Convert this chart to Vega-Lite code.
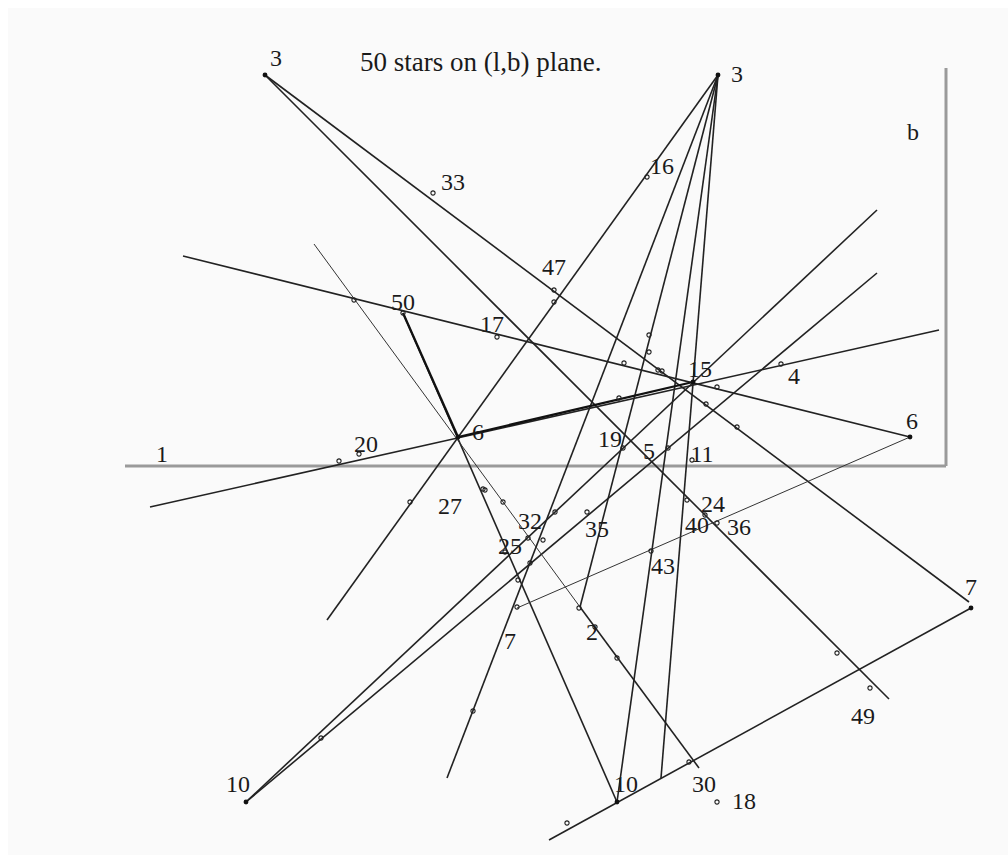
{
  "$schema": "https://vega.github.io/schema/vega-lite/v6.json",
  "width": 1000,
  "height": 847,
  "autosize": {"type": "none"},
  "padding": {"left": 8, "top": 8, "right": 0, "bottom": 0},
  "background": "white",
  "config": {"view": {"fill": "#fafafa", "stroke": null}},
  "datasets": {
    "axes": [
      {"x": 125, "y": 466, "x2": 946, "y2": 466},
      {"x": 946, "y": 68, "x2": 946, "y2": 466}
    ],
    "lines": [
      {"x": 265, "y": 75, "x2": 969, "y2": 602},
      {"x": 265, "y": 75, "x2": 889, "y2": 699},
      {"x": 718, "y": 75, "x2": 327, "y2": 620},
      {"x": 718, "y": 75, "x2": 447, "y2": 778},
      {"x": 718, "y": 75, "x2": 580, "y2": 607},
      {"x": 718, "y": 75, "x2": 617, "y2": 802},
      {"x": 718, "y": 75, "x2": 661, "y2": 778},
      {"x": 403, "y": 313, "x2": 617, "y2": 802},
      {"x": 183, "y": 256, "x2": 910, "y2": 437},
      {"x": 150, "y": 507, "x2": 939, "y2": 330},
      {"x": 246, "y": 802, "x2": 877, "y2": 210},
      {"x": 246, "y": 802, "x2": 877, "y2": 273},
      {"x": 549, "y": 840, "x2": 971, "y2": 608},
      {"x": 580, "y": 607, "x2": 699, "y2": 768}
    ],
    "thin": [
      {"x": 314, "y": 244, "x2": 580, "y2": 607},
      {"x": 910, "y": 437, "x2": 517, "y2": 608}
    ],
    "thick": [
      {"x": 458, "y": 437, "x2": 693, "y2": 382},
      {"x": 403, "y": 313, "x2": 458, "y2": 437}
    ],
    "open": [
      {"x": 433, "y": 193}, {"x": 354, "y": 300}, {"x": 497, "y": 337},
      {"x": 647, "y": 177}, {"x": 554, "y": 290}, {"x": 554, "y": 302},
      {"x": 781, "y": 364}, {"x": 649, "y": 335}, {"x": 649, "y": 352},
      {"x": 624, "y": 363}, {"x": 658, "y": 370}, {"x": 662, "y": 371},
      {"x": 717, "y": 387}, {"x": 706, "y": 404}, {"x": 737, "y": 427},
      {"x": 619, "y": 398}, {"x": 623, "y": 448}, {"x": 668, "y": 448},
      {"x": 692, "y": 460}, {"x": 687, "y": 500}, {"x": 705, "y": 515},
      {"x": 717, "y": 523}, {"x": 651, "y": 551}, {"x": 483, "y": 489},
      {"x": 503, "y": 502}, {"x": 528, "y": 538}, {"x": 543, "y": 540},
      {"x": 555, "y": 512}, {"x": 587, "y": 512}, {"x": 530, "y": 563},
      {"x": 505, "y": 552}, {"x": 518, "y": 580}, {"x": 517, "y": 607},
      {"x": 579, "y": 608}, {"x": 339, "y": 461}, {"x": 359, "y": 454},
      {"x": 410, "y": 502}, {"x": 485, "y": 490}, {"x": 321, "y": 738},
      {"x": 473, "y": 711}, {"x": 595, "y": 627}, {"x": 617, "y": 658},
      {"x": 689, "y": 762}, {"x": 717, "y": 802}, {"x": 567, "y": 823},
      {"x": 837, "y": 653}, {"x": 870, "y": 688}, {"x": 403, "y": 313}
    ],
    "filled": [
      {"x": 265, "y": 75}, {"x": 718, "y": 75}, {"x": 693, "y": 382},
      {"x": 458, "y": 437}, {"x": 246, "y": 802}, {"x": 617, "y": 802},
      {"x": 971, "y": 608}, {"x": 910, "y": 437}
    ],
    "labels": [
      {"x": 276, "y": 59, "t": "3"}, {"x": 737, "y": 75, "t": "3"},
      {"x": 913, "y": 133, "t": "b"}, {"x": 162, "y": 455, "t": "1"},
      {"x": 453, "y": 183, "t": "33"}, {"x": 662, "y": 167, "t": "16"},
      {"x": 554, "y": 268, "t": "47"}, {"x": 403, "y": 303, "t": "50"},
      {"x": 492, "y": 325, "t": "17"}, {"x": 700, "y": 370, "t": "15"},
      {"x": 794, "y": 377, "t": "4"}, {"x": 478, "y": 433, "t": "6"},
      {"x": 912, "y": 422, "t": "6"}, {"x": 366, "y": 445, "t": "20"},
      {"x": 610, "y": 440, "t": "19"}, {"x": 649, "y": 452, "t": "5"},
      {"x": 702, "y": 455, "t": "11"}, {"x": 450, "y": 507, "t": "27"},
      {"x": 530, "y": 522, "t": "32"}, {"x": 510, "y": 547, "t": "25"},
      {"x": 597, "y": 530, "t": "35"}, {"x": 713, "y": 505, "t": "24"},
      {"x": 697, "y": 526, "t": "40"}, {"x": 739, "y": 528, "t": "36"},
      {"x": 663, "y": 567, "t": "43"}, {"x": 592, "y": 633, "t": "2"},
      {"x": 510, "y": 642, "t": "7"}, {"x": 238, "y": 785, "t": "10"},
      {"x": 626, "y": 785, "t": "10"}, {"x": 704, "y": 785, "t": "30"},
      {"x": 744, "y": 802, "t": "18"}, {"x": 863, "y": 717, "t": "49"},
      {"x": 971, "y": 588, "t": "7"}
    ],
    "title": [
      {"x": 360, "y": 63, "t": "50 stars on (l,b) plane."}
    ]
  },
  "encoding": {
    "x": {"field": "x", "type": "quantitative", "scale": {"domain": [8, 1008], "nice": false, "zero": false}, "axis": null},
    "y": {"field": "y", "type": "quantitative", "scale": {"domain": [8, 855], "nice": false, "zero": false, "reverse": true}, "axis": null}
  },
  "layer": [
    {
      "data": {"name": "axes"},
      "mark": {"type": "rule", "color": "#9a9a9a", "strokeWidth": 3},
      "encoding": {"x2": {"field": "x2"}, "y2": {"field": "y2"}}
    },
    {
      "data": {"name": "lines"},
      "mark": {"type": "rule", "color": "#222222", "strokeWidth": 1.6},
      "encoding": {"x2": {"field": "x2"}, "y2": {"field": "y2"}}
    },
    {
      "data": {"name": "thin"},
      "mark": {"type": "rule", "color": "#333333", "strokeWidth": 1.0},
      "encoding": {"x2": {"field": "x2"}, "y2": {"field": "y2"}}
    },
    {
      "data": {"name": "thick"},
      "mark": {"type": "rule", "color": "#111111", "strokeWidth": 2.3},
      "encoding": {"x2": {"field": "x2"}, "y2": {"field": "y2"}}
    },
    {
      "data": {"name": "open"},
      "mark": {"type": "point", "filled": false, "size": 18, "stroke": "#222222", "strokeWidth": 1.1, "opacity": 1}
    },
    {
      "data": {"name": "filled"},
      "mark": {"type": "point", "filled": true, "size": 24, "color": "#111111", "opacity": 1}
    },
    {
      "data": {"name": "labels"},
      "mark": {"type": "text", "font": "Liberation Serif", "fontSize": 24, "color": "#1a1a1a", "align": "center", "baseline": "middle"},
      "encoding": {"text": {"field": "t"}}
    },
    {
      "data": {"name": "title"},
      "mark": {"type": "text", "font": "Liberation Serif", "fontSize": 27, "color": "#1a1a1a", "align": "left", "baseline": "middle"},
      "encoding": {"text": {"field": "t"}}
    }
  ]
}
